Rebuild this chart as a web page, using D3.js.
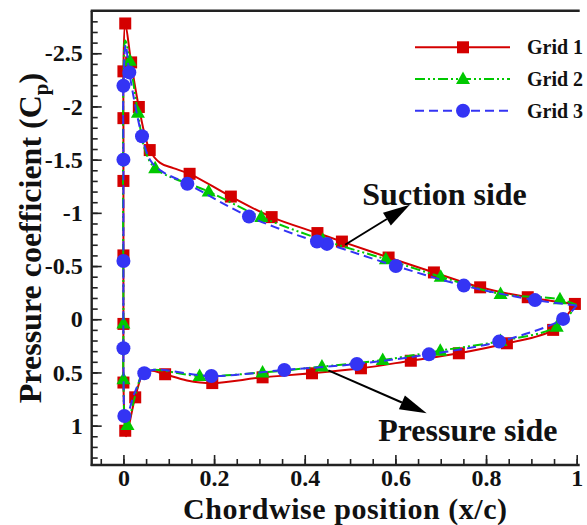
<!DOCTYPE html>
<html>
<head>
<meta charset="utf-8">
<script src="https://cdn.jsdelivr.net/npm/d3@7"></script>
<style>
  html, body { margin: 0; padding: 0; background: #fff; }
  svg { display: block; }
  text { font-family: "Liberation Serif", "Times New Roman", serif; font-weight: bold; fill: #111; }
</style>
</head>
<body>
<svg id="chart" width="587" height="525"></svg>
<script>
// ---------------- DATA ----------------
const seriesNames = ["Grid 1", "Grid 2", "Grid 3"];

// [x/c, Cp, hasMarker] ordered TE(upper) -> LE -> TE(lower)
const grid1 = [
  [0.996,-0.144,1],[0.892,-0.207,1],[0.787,-0.300,1],[0.685,-0.440,1],[0.585,-0.580,1],
  [0.482,-0.730,1],[0.428,-0.810,1],[0.327,-0.960,1],[0.237,-1.153,1],[0.146,-1.367,1],
  [0.110,-1.420,0],[0.081,-1.470,0],[0.058,-1.590,1],[0.034,-1.995,1],[0.017,-2.414,1],
  [0.004,-2.780,1],[0.000,-2.330,1],[0.000,-1.890,1],[0.000,-1.300,1],[0.000,-0.600,1],
  [0.000,0.044,1],[0.000,0.595,1],[0.004,1.048,1],[0.006,1.100,0],[0.026,0.734,1],
  [0.045,0.500,0],[0.060,0.482,0],[0.092,0.517,1],[0.140,0.575,0],[0.196,0.600,1],
  [0.307,0.546,1],[0.416,0.508,1],[0.524,0.461,1],[0.634,0.390,1],[0.740,0.320,1],
  [0.846,0.226,1],[0.948,0.100,1],[0.996,-0.144,0]
];
const grid2 = [
  [1.000,-0.135,0],[0.963,-0.188,1],[0.832,-0.238,1],[0.700,-0.400,1],[0.579,-0.564,1],
  [0.440,-0.745,1],[0.304,-0.960,1],[0.188,-1.200,1],[0.070,-1.420,1],[0.047,-1.600,0],
  [0.032,-1.940,1],[0.014,-2.430,1],[0.004,-2.620,0],[0.000,-2.200,0],[0.000,0.040,1],
  [0.000,0.565,1],[0.005,1.020,0],[0.009,0.994,1],[0.026,0.720,0],[0.044,0.500,0],
  [0.065,0.475,0],[0.168,0.533,1],[0.307,0.500,1],[0.438,0.445,1],[0.572,0.383,1],
  [0.699,0.295,1],[0.832,0.205,1],[0.956,0.070,1],[1.000,-0.135,0]
];
const grid3 = [
  [1.000,-0.130,0],[0.908,-0.180,1],[0.751,-0.316,1],[0.601,-0.500,1],[0.449,-0.708,1],
  [0.427,-0.730,1],[0.277,-0.965,1],[0.141,-1.273,1],[0.085,-1.390,0],[0.060,-1.490,0],
  [0.041,-1.720,1],[0.013,-2.320,1],[0.005,-2.580,0],[0.000,-2.195,1],[0.000,-1.500,1],
  [0.000,-0.548,1],[0.000,0.273,1],[0.002,0.910,1],[0.004,0.970,0],[0.024,0.700,0],
  [0.046,0.508,1],[0.070,0.475,0],[0.194,0.533,1],[0.355,0.477,1],[0.515,0.420,1],
  [0.674,0.330,1],[0.829,0.210,1],[0.970,-0.003,1],[1.000,-0.130,0]
];

const xMajorTicks = [0, 0.2, 0.4, 0.6, 0.8, 1];
const xTickLabels = ["0", "0.2", "0.4", "0.6", "0.8", "1"];
const yMajorTicks = [-2.5, -2, -1.5, -1, -0.5, 0, 0.5, 1];
const yTickLabels = ["-2.5", "-2", "-1.5", "-1", "-0.5", "0", "0.5", "1"];

const xTitle = "Chordwise position (x/c)";
const yTitleMain = "Pressure coefficient (C";
const yTitleSub = "p";

// annotations: [text, textX, textCp, arrowFromX, arrowFromCp, arrowToX, arrowToCp]
const annotations = [
  ["Suction side", 0.527, -1.075, 0.489, -0.700, 0.632, -1.075],
  ["Pressure side", 0.562, 1.145, 0.452, 0.480, 0.669, 0.884]
];

// ---------------- CHART ----------------
(function () {
const svg = d3.select("#chart");
const pLeft = 91.7, pRight = 576.7, pTop = 10.7, pBottom = 465;

const x = d3.scaleLinear().domain([-0.07, 1.0]).range([pLeft, pRight]);
const y = d3.scaleLinear().domain([-2.9, 1.37]).range([pTop, pBottom]);

const styles = [
  { color: "#d40000", dash: null, marker: "square" },
  { color: "#00c800", dash: "10,3,2,3,2,3", marker: "triangle" },
  { color: "#3434f4", dash: "9,5", marker: "circle" }
];

const xMinor = d3.range(-0.05, 1.0001, 0.05).map(v => +v.toFixed(2));
const yMinor = d3.range(-2.9, 1.3001, 0.1).map(v => +v.toFixed(1));

const gx = svg.append("g").attr("transform", `translate(0,${pBottom})`);
gx.call(d3.axisBottom(x).tickValues(xMinor).tickSize(-6).tickFormat(""));
gx.append("g").call(d3.axisBottom(x).tickValues(xMajorTicks).tickSize(-10).tickPadding(4)
  .tickFormat((d, i) => xTickLabels[i]));
gx.selectAll(".domain").remove();
gx.selectAll("line").attr("stroke", "#222").attr("stroke-width", 1.6);
gx.selectAll("text").style("font-size", "24px").attr("fill", "#111").attr("dy", "0.71em").attr("y", 4);

const gy = svg.append("g").attr("transform", `translate(${pLeft},0)`);
gy.call(d3.axisLeft(y).tickValues(yMinor).tickSize(-6).tickFormat(""));
gy.append("g").call(d3.axisLeft(y).tickValues(yMajorTicks).tickSize(-10).tickPadding(9)
  .tickFormat((d, i) => yTickLabels[i]));
gy.selectAll(".domain").remove();
gy.selectAll("line").attr("stroke", "#222").attr("stroke-width", 1.6);
gy.selectAll("text").style("font-size", "24px").attr("fill", "#111");

svg.append("line").attr("x1", pLeft).attr("x2", pLeft).attr("y1", pTop).attr("y2", pBottom + 1)
  .attr("stroke", "#222").attr("stroke-width", 2.4);
svg.append("line").attr("x1", pLeft - 1).attr("x2", pRight + 3).attr("y1", pBottom).attr("y2", pBottom)
  .attr("stroke", "#222").attr("stroke-width", 2.4);
svg.append("line").attr("x1", pLeft - 1).attr("x2", pRight + 3).attr("y1", pTop).attr("y2", pTop)
  .attr("stroke", "#222").attr("stroke-width", 2.4);

function drawMarker(g, type, cx, cy, color) {
  if (type === "square") {
    g.append("rect").attr("x", cx - 6).attr("y", cy - 6).attr("width", 12).attr("height", 12).attr("fill", color);
  } else if (type === "triangle") {
    g.append("path").attr("d", `M${cx},${cy - 7.5}L${cx + 7},${cy + 5}L${cx - 7},${cy + 5}Z`).attr("fill", color);
  } else {
    g.append("circle").attr("cx", cx).attr("cy", cy).attr("r", 7).attr("fill", color);
  }
}

const line = d3.line().x(d => x(d[0])).y(d => y(d[1])).curve(d3.curveCatmullRom.alpha(0.5));

[grid1, grid2, grid3].forEach((data, i) => {
  const st = styles[i];
  const g = svg.append("g");
  g.append("path").datum(data).attr("d", line).attr("fill", "none")
    .attr("stroke", st.color).attr("stroke-width", 2)
    .attr("stroke-dasharray", st.dash);
  data.filter(d => d[2] === 1).forEach(d => drawMarker(g, st.marker, x(d[0]), y(d[1]), st.color));
});

const lg = svg.append("g");
seriesNames.forEach((name, i) => {
  const st = styles[i];
  const ly = 47.3 + i * 31.7;
  lg.append("line").attr("x1", 415).attr("x2", 510).attr("y1", ly).attr("y2", ly)
    .attr("stroke", st.color).attr("stroke-width", 2).attr("stroke-dasharray", st.dash);
  drawMarker(lg, st.marker, 463, ly, st.color);
  lg.append("text").attr("x", 527).attr("y", ly + 7).style("font-size", "20px").text(name);
});

annotations.forEach(a => {
  const [t, tx, ty, fx, fy, ax, ay] = a;
  const x1 = x(fx), y1 = y(fy), x2 = x(ax), y2 = y(ay);
  const ang = Math.atan2(y2 - y1, x2 - x1);
  const L = 27, hw = 7.5;
  const bx = x2 - L * Math.cos(ang), by = y2 - L * Math.sin(ang);
  svg.append("line").attr("x1", x1).attr("y1", y1).attr("x2", bx).attr("y2", by)
    .attr("stroke", "#000").attr("stroke-width", 2);
  const px = -Math.sin(ang), py = Math.cos(ang);
  svg.append("path").attr("d", `M${x2},${y2}L${bx + px * hw},${by + py * hw}L${bx - px * hw},${by - py * hw}Z`)
    .attr("fill", "#000");
  svg.append("text").attr("x", x(tx)).attr("y", y(ty)).style("font-size", "32px").text(t);
});

svg.append("text").attr("x", 345).attr("y", 518.5).attr("text-anchor", "middle")
  .attr("textLength", 324).attr("lengthAdjust", "spacing")
  .style("font-size", "30px").text(xTitle);
const yt = svg.append("text").attr("transform", "translate(41,238) rotate(-90)")
  .attr("text-anchor", "middle").style("font-size", "32px");
yt.append("tspan").text(yTitleMain);
yt.append("tspan").attr("dy", 7).style("font-size", "21px").text(yTitleSub);
yt.append("tspan").attr("dy", -7).text(")");
})();
</script>
</body>
</html>
